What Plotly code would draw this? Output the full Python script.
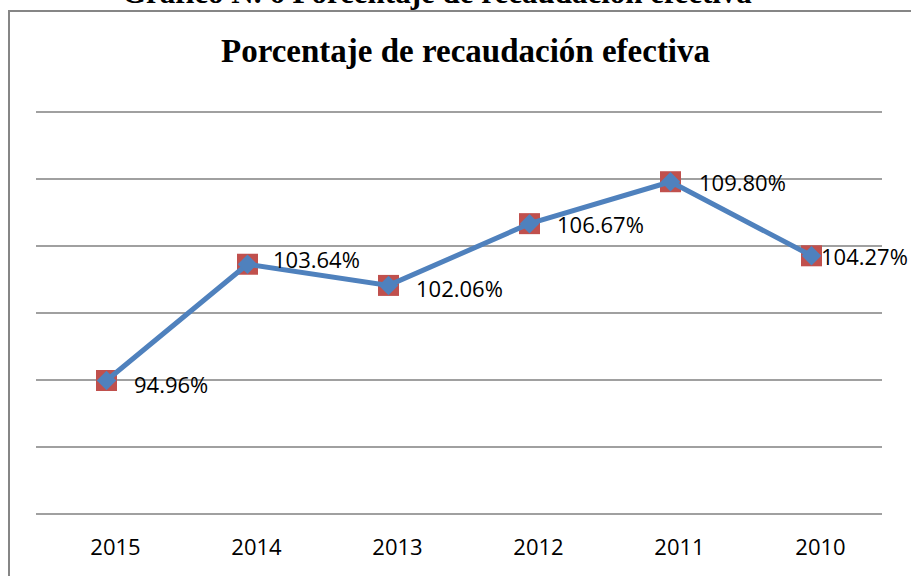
import plotly.graph_objects as go

years = ["2015", "2014", "2013", "2012", "2011", "2010"]
recaudacion = [94.96, 103.64, 102.06, 106.67, 109.80, 104.27]
labels = ["94.96%", "103.64%", "102.06%", "106.67%", "109.80%", "104.27%"]
y_ticks = [85, 90, 95, 100, 105, 110, 115]

W, H = 911, 576
L, R, T, B = 36, 29, 111, 61
pw, ph = W - L - R, H - T - B


def px_x(x):
    return (x - L) / pw


def px_y(y):
    return (H - B - y) / ph


fig = go.Figure()
fig.add_trace(go.Scatter(
    x=list(range(len(years))), y=recaudacion, mode="markers",
    marker={"symbol": "square", "size": 21, "color": "#C0504D"},
    hoverinfo="skip", showlegend=False,
))
fig.add_trace(go.Scatter(
    x=list(range(len(years))), y=recaudacion, mode="lines+markers",
    line={"color": "#4F81BD", "width": 5},
    marker={"symbol": "diamond", "size": 15, "color": "#4F81BD"},
    showlegend=False,
))

label_dx = [25, 23, 25, 25, 26, 7]
label_dy = [-3, 5, -3, 0, 0, 0]
for i, (txt, val) in enumerate(zip(labels, recaudacion)):
    fig.add_annotation(
        x=i, y=val, text=txt, showarrow=False, xanchor="left", yanchor="middle",
        xshift=label_dx[i], yshift=label_dy[i],
        font={"family": "Open Sans", "size": 22, "color": "#000"},
    )

fig.add_annotation(
    xref="paper", yref="paper", x=px_x(465), y=px_y(31),
    text="<b>Porcentaje de recaudación efectiva</b>", showarrow=False,
    font={"family": "Liberation Serif", "size": 33, "color": "#000"},
)
# the page title sits above the chart and is cut by the page edge
fig.add_annotation(
    xref="paper", yref="paper", x=px_x(437), y=px_y(-27),
    text="<b>Gráfico N. 6 Porcentaje de recaudación efectiva</b>", showarrow=False,
    font={"family": "Liberation Serif", "size": 31, "color": "#000"},
)
fig.add_shape(
    type="rect", xref="paper", yref="paper",
    x0=px_x(9), y0=px_y(11), x1=px_x(940), y1=px_y(610),
    line={"color": "#868686", "width": 2}, layer="below",
)

fig.update_layout(
    width=W, height=H,
    margin={"l": L, "r": R, "t": T, "b": B, "autoexpand": False},
    paper_bgcolor="white", plot_bgcolor="white",
    xaxis={
        "range": [-0.5, len(years) - 0.5],
        "tickvals": list(range(len(years))), "ticktext": years,
        "showgrid": False, "showline": False, "zeroline": False,
        "ticks": "", "ticklabelstandoff": 17, "ticklabelshift": 9,
        "tickfont": {"family": "Open Sans", "size": 22, "color": "#000"},
    },
    yaxis={
        "range": [84.92, 115.08], "tickvals": y_ticks, "showticklabels": False,
        "showgrid": True, "gridcolor": "#A0A0A0", "gridwidth": 2,
        "zeroline": False, "showline": False,
    },
)

# drop the browser's default body margin so the chart fills the window
fig.write_html(
    "out.html",
    config={"displayModeBar": False},
    post_script="document.body.style.margin = '0';",
)
